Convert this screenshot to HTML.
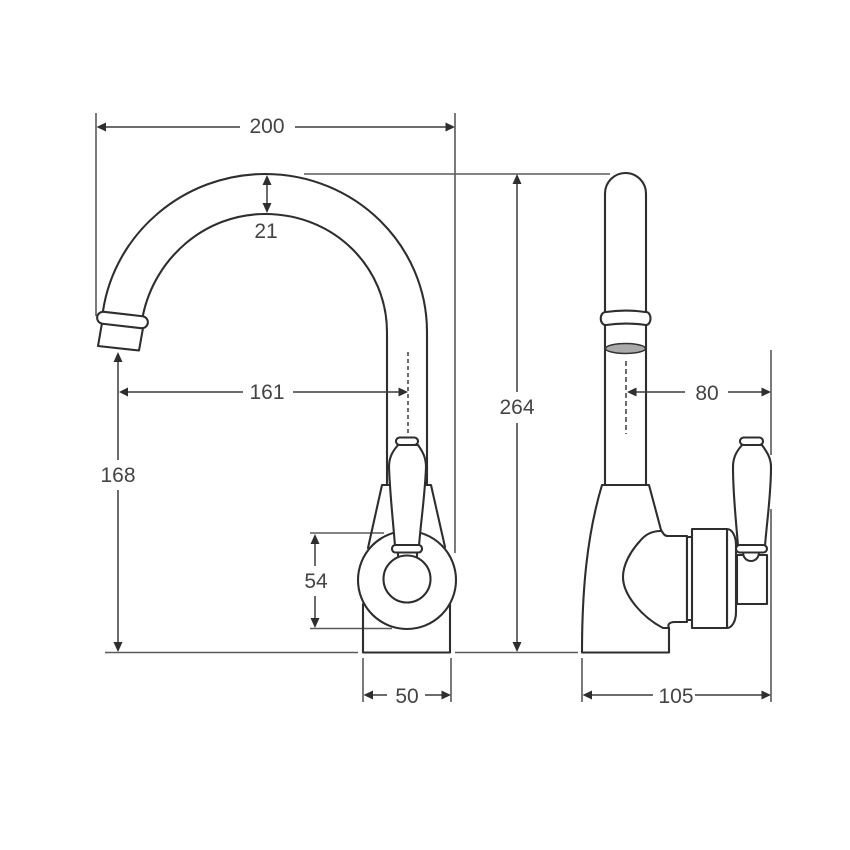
<!DOCTYPE html>
<html><head><meta charset="utf-8"><style>
html,body{margin:0;padding:0;background:#fff}
svg{display:block}
text{font-family:"Liberation Sans",sans-serif;font-size:21px;fill:#444;text-anchor:middle}
.o{fill:none;stroke:#2e2e2e;stroke-width:2.1;stroke-linejoin:round;stroke-linecap:round}
.w{fill:#fff;stroke:#2e2e2e;stroke-width:2.1;stroke-linejoin:round}
.d{fill:none;stroke:#3c3c3c;stroke-width:1.5}
.e{fill:none;stroke:#5a5a5a;stroke-width:1.6}
.a{fill:#2e2e2e}
</style></head><body>
<svg width="850" height="850" viewBox="0 0 850 850" xmlns="http://www.w3.org/2000/svg">
<rect width="850" height="850" fill="#fff"/>
<!-- extension lines -->
<path class="e" d="M96 113V316M455 113V553M304 174H610M105 652.500H358M455 652.500H578M310 533H384M310 628.500H392M363 658V702M451 658V702M582 658V702M771 350V455M771 509V702"/>
<!-- left faucet spout -->
<path class="o" d="M103 311C115 232 185 174 265 174C355 174 427 245 427 332V485"/>
<path class="o" d="M143 315C155 258 205 214 265 214C335 214 387 268 387 332V485"/>
<path class="w" d="M102 323L98 346L139 350.500L143 328Z"/>
<rect class="w" x="97" y="314" width="51" height="12" rx="6" transform="rotate(6.500 122.500 320)"/>
<path class="d" stroke-dasharray="4 3" d="M408 352V435"/>
<!-- left base -->
<path class="o" d="M363 604V652.500H450V604"/>
<path class="o" d="M368 548L382 485H389M445 547L431 485H425"/>
<circle class="w" cx="407" cy="580" r="49"/>
<path class="w" d="M398 552H417V560H398Z"/>
<circle class="w" cx="407" cy="579" r="23.500"/>
<path class="w" d="M398 445C392 452 389 458 389 467C390 495 393 520 395 546H419C421 520 425 495 426 467C426 458 423 452 418 445Z"/>
<rect class="w" x="392" y="545" width="30" height="7.500" rx="3.500"/>
<rect class="w" x="396" y="437.500" width="22" height="7.500" rx="3.700"/>
<!-- right faucet -->
<path class="o" d="M605 485V193.500A20.500 20.500 0 0 1 646 193.500V485"/>
<path class="w" d="M606 312C620 310 632 310 645 312H646C652 312 652 325 646 325C632 323 620 323 606 325C599 325 599 312 606 312Z"/>
<ellipse cx="625.500" cy="348.500" rx="20" ry="5" fill="#aaa" stroke="#333" stroke-width="1.500"/>
<path class="d" stroke-dasharray="5 3" d="M626 361V434"/>
<path class="w" d="M602 485H649L661 530C663 533 664 536 668 536H687V622H675C670 622 667 624 669 628V652.500H582C582 590 587 535 602 485Z"/>
<path class="o" d="M661 531C651 531 645 535 640 541C630 552 623 565 623 577C623 595 642 617 663 628L669 628"/>
<rect class="w" x="687" y="537" width="5.500" height="83"/>
<path class="w" d="M727 529C732 529 736 536 736 545V612C736 621 732 628 727 628Z"/>
<rect class="w" x="692" y="529" width="35" height="99"/>
<rect class="w" x="737" y="555" width="30" height="49"/>
<path class="w" d="M743 552C743 564 759 564 759 552Z"/>
<path class="w" d="M742 445C736 452 733 458 733 467C733 495 736 520 738 546H765C767 520 771 495 771 467C771 458 767 452 762 445Z"/>
<rect class="w" x="736" y="545" width="31" height="7.500" rx="3.700"/>
<rect class="w" x="740" y="437.500" width="23" height="7.500" rx="3.700"/>
<!-- dimensions -->
<path class="d" d="M100 127H240M295 127H452M267 180V208M122 392H243M293 392H404M118 358V460M118 490V648M517 180V392M517 423V648M315 538V566M315 596V624M367 695H387M425 695H447M586 695H653M695 695H767M630 392H685M728 392H767"/>
<g class="a">
<path d="M96.500 127L106 122.500V131.500Z"/><path d="M455 127L445.500 122.500V131.500Z"/>
<path d="M267 175L262.500 185H271.500Z"/><path d="M267 213L262.500 203H271.500Z"/>
<path d="M119 392L128 387.500V396.500Z"/><path d="M408 392L398.500 387.500V396.500Z"/>
<path d="M118 352L113.500 362H122.500Z"/><path d="M118 652L113.500 642H122.500Z"/>
<path d="M517 174L512.500 184H521.500Z"/><path d="M517 652L512.500 642H521.500Z"/>
<path d="M315 534L310.500 544H319.500Z"/><path d="M315 628L310.500 618H319.500Z"/>
<path d="M363.500 695L373 690.500V699.500Z"/><path d="M451 695L441.500 690.500V699.500Z"/>
<path d="M582.500 695L592 690.500V699.500Z"/><path d="M771 695L761.500 690.500V699.500Z"/>
<path d="M627 392L636.500 387.500V396.500Z"/><path d="M771 392L761.500 387.500V396.500Z"/>
</g>
<text x="267" y="133">200</text>
<text x="266" y="238">21</text>
<text x="267" y="399">161</text>
<text x="118" y="482">168</text>
<text x="517" y="414">264</text>
<text x="316" y="588">54</text>
<text x="407" y="703">50</text>
<text x="676" y="703">105</text>
<text x="707" y="400">80</text>
</svg>
</body></html>
